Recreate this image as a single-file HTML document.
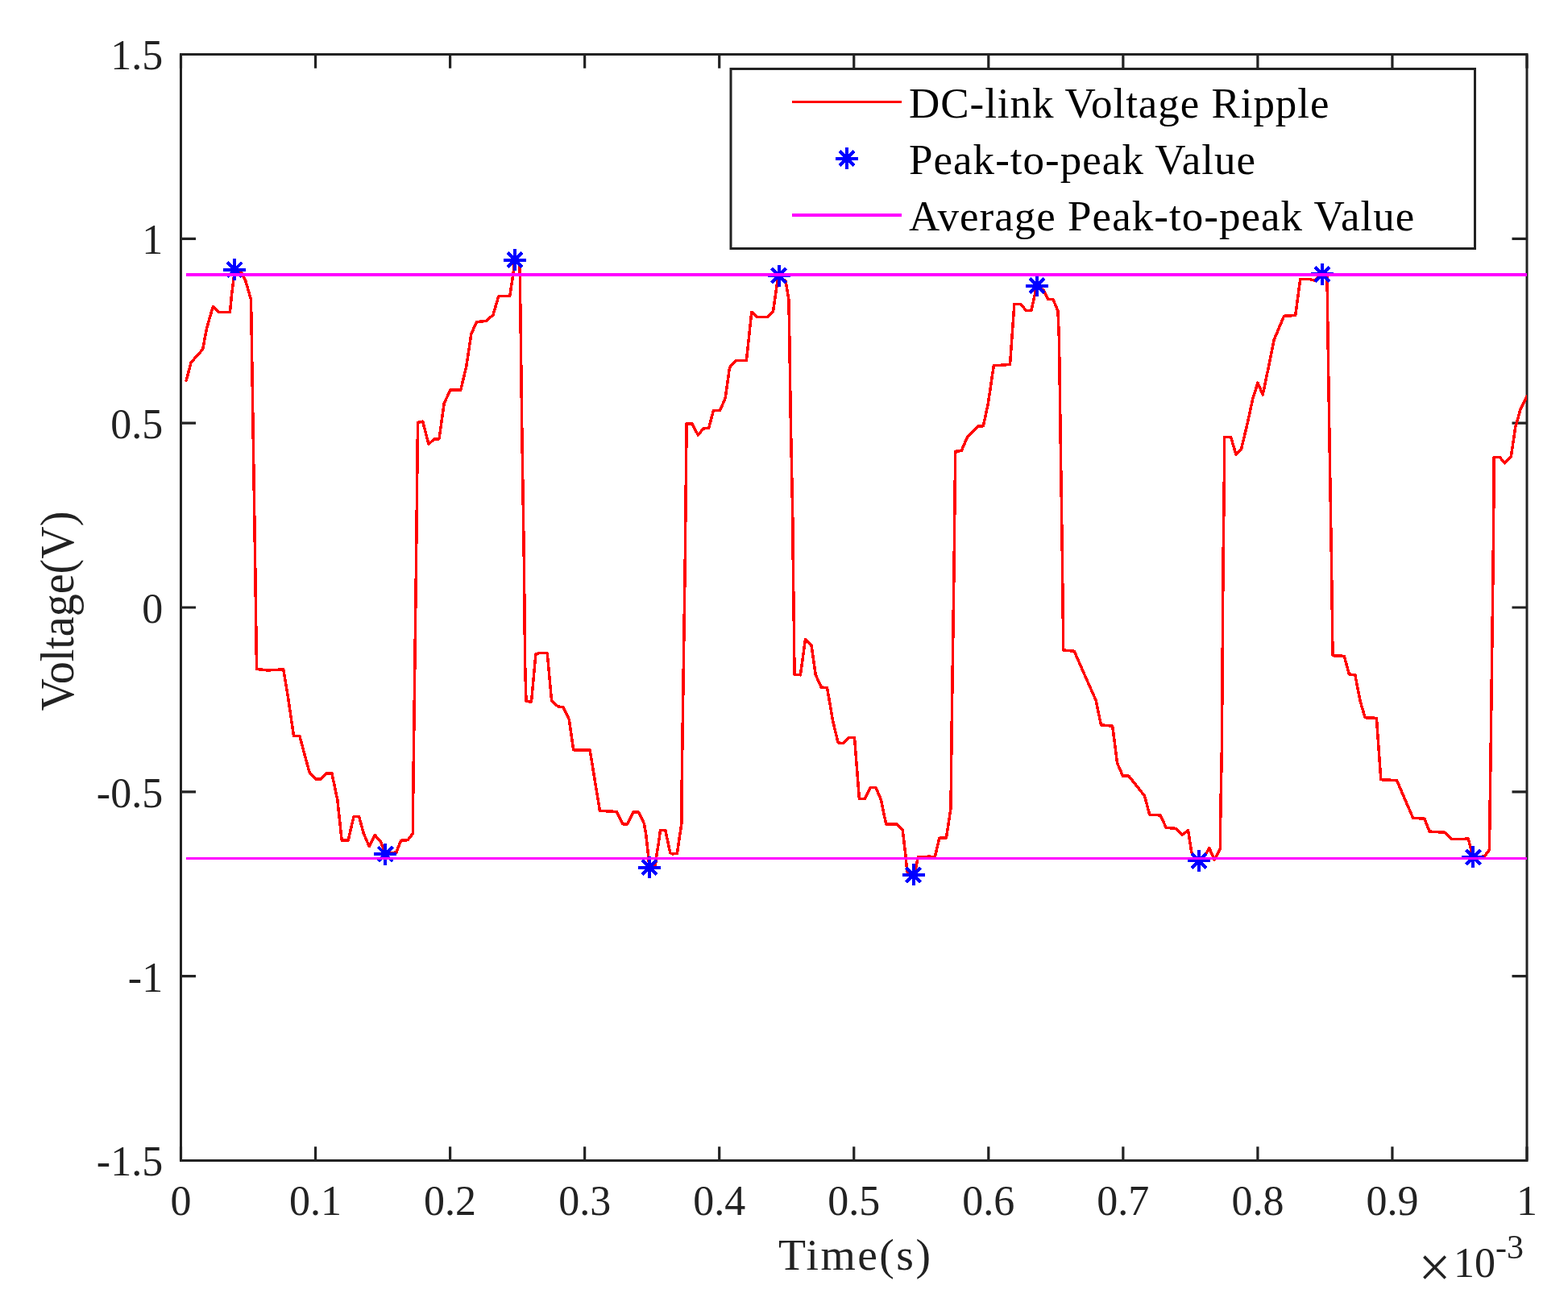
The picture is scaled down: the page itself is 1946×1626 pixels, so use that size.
<!DOCTYPE html>
<html><head><meta charset="utf-8"><title>DC-link Voltage Ripple</title>
<style>html,body{margin:0;padding:0;background:#fff;}svg{display:block;}text{font-family:"Liberation Serif","Times New Roman",serif;}</style></head><body>
<svg width="1946" height="1626" viewBox="0 0 1946 1626">
<rect x="0" y="0" width="1946" height="1626" fill="#fff"/>
<defs><clipPath id="c"><rect x="224.5" y="67.5" width="1670.5" height="1373.0"/></clipPath>
<g id="st"><path d="M-14 0H14M0 -13.5V13.5M-9.00 -9.00L9.00 9.00M-9.00 9.00L9.00 -9.00" stroke="#00f" stroke-width="4" fill="none" shape-rendering="crispEdges"/></g></defs>
<path d="M224.50 1440.50V1423.20M224.50 67.50V84.80M391.55 1440.50V1423.20M391.55 67.50V84.80M558.60 1440.50V1423.20M558.60 67.50V84.80M725.65 1440.50V1423.20M725.65 67.50V84.80M892.70 1440.50V1423.20M892.70 67.50V84.80M1059.75 1440.50V1423.20M1059.75 67.50V84.80M1226.80 1440.50V1423.20M1226.80 67.50V84.80M1393.85 1440.50V1423.20M1393.85 67.50V84.80M1560.90 1440.50V1423.20M1560.90 67.50V84.80M1727.95 1440.50V1423.20M1727.95 67.50V84.80M1895.00 1440.50V1423.20M1895.00 67.50V84.80M224.50 1440.50H243.00M1895.00 1440.50H1876.50M224.50 1211.67H243.00M1895.00 1211.67H1876.50M224.50 982.83H243.00M1895.00 982.83H1876.50M224.50 754.00H243.00M1895.00 754.00H1876.50M224.50 525.17H243.00M1895.00 525.17H1876.50M224.50 296.33H243.00M1895.00 296.33H1876.50M224.50 67.50H243.00M1895.00 67.50H1876.50" stroke="#222222" stroke-width="3.2" fill="none"/>
<rect x="224.5" y="67.5" width="1670.5" height="1373.0" fill="none" stroke="#222222" stroke-width="3"/>
<g clip-path="url(#c)">
<polyline points="231.2,472.2 237.1,450.0 251.7,433.4 256.1,409.6 259.4,397.5 264.4,380.3 271.6,387.5 285.4,387.5 287.7,364.2 290.4,343.2 291.5,334.9 299.3,337.7 304.8,348.7 311.5,372.0 312.0,400.0 316.7,700.0 318.5,830.4 332.0,832.0 351.7,830.9 357.8,867.3 364.5,913.5 371.8,913.5 384.1,958.8 391.5,966.9 398.4,966.9 405.3,960.0 411.9,960.0 418.8,992.7 424.2,1043.2 432.1,1043.2 439.0,1013.7 445.6,1013.7 451.3,1034.6 458.2,1050.6 465.3,1036.5 472.2,1044.4 478.4,1059.5 491.9,1058.0 497.5,1043.3 506.1,1042.7 512.3,1034.7 512.3,1025.5 512.9,972.6 516.5,700.0 518.5,524.4 524.6,523.1 532.0,551.4 538.9,544.8 545.0,544.8 551.2,500.5 559.0,484.0 571.8,484.0 578.7,455.0 584.9,414.4 591.5,399.6 603.3,398.4 611.9,391.0 618.8,367.7 632.8,367.2 636.5,343.0 639.0,322.6 645.1,329.5 646.4,423.0 647.6,521.4 650.4,700.0 651.6,823.0 653.0,870.5 659.5,871.0 664.9,811.9 669.4,810.7 679.2,810.7 684.6,869.7 692.7,877.1 698.9,877.6 706.3,893.1 711.7,930.8 732.1,930.8 744.4,1006.3 765.3,1007.5 772.7,1022.8 778.8,1022.8 786.2,1008.0 792.4,1008.0 799.3,1022.0 801.7,1035.3 804.8,1063.6 805.8,1077.0 813.4,1074.7 814.6,1063.6 817.7,1043.9 819.5,1030.4 825.7,1030.4 831.8,1058.7 834.3,1059.9 840.4,1059.3 842.9,1041.4 846.0,1021.8 846.3,961.5 850.2,700.0 851.6,570.6 852.1,525.8 859.0,525.8 866.2,539.9 873.0,532.0 879.7,531.2 885.4,509.6 893.5,509.6 900.1,494.3 905.5,456.2 912.9,447.6 926.4,447.6 932.8,387.3 940.0,393.5 953.0,393.5 959.6,386.1 964.8,349.2 966.0,341.8 975.1,349.2 978.8,371.3 979.6,405.8 981.3,521.4 983.8,644.4 984.3,700.0 985.3,773.8 986.0,837.3 993.4,837.8 999.5,793.5 1006.9,800.4 1012.3,837.8 1019.2,853.0 1026.6,853.8 1033.5,894.3 1040.1,921.9 1046.3,922.6 1053.6,915.3 1060.5,915.3 1066.4,991.5 1073.3,991.5 1080.2,977.5 1086.9,977.5 1093.5,992.7 1099.6,1022.8 1112.9,1023.0 1120.3,1030.6 1124.0,1062.4 1125.8,1082.0 1133.5,1086.3 1136.3,1079.6 1139.4,1063.6 1153.5,1063.2 1160.3,1063.6 1165.8,1040.2 1174.4,1040.0 1180.0,1003.3 1181.2,900.0 1184.1,700.0 1185.1,607.5 1185.8,560.3 1193.2,559.5 1200.6,542.3 1208.0,534.9 1214.1,528.8 1220.3,528.8 1226.4,500.5 1233.3,453.8 1253.5,452.5 1258.9,377.5 1266.3,377.5 1273.9,385.6 1279.8,385.6 1284.2,366.4 1286.7,355.4 1295.3,360.3 1300.7,371.3 1307.1,371.8 1313.0,386.1 1314.5,423.0 1316.2,546.0 1318.5,700.0 1319.7,807.0 1333.2,808.2 1341.8,827.9 1360.3,869.7 1366.4,899.8 1380.7,901.2 1386.6,947.2 1393.5,963.2 1400.9,963.2 1420.5,987.8 1426.7,1011.2 1440.2,1011.9 1447.1,1027.2 1459.8,1028.5 1467.2,1036.3 1474.6,1030.6 1478.3,1055.0 1479.5,1060.0 1487.9,1068.5 1496.7,1060.0 1500.7,1052.5 1504.1,1060.0 1507.2,1067.3 1511.5,1058.7 1514.6,1053.1 1514.8,1008.2 1516.4,927.1 1518.0,700.0 1519.2,607.5 1519.7,542.3 1527.6,542.3 1534.0,564.5 1540.6,557.1 1548.0,526.3 1554.6,495.6 1561.0,475.2 1567.2,489.9 1575.0,452.5 1581.2,421.8 1593.5,392.3 1607.7,391.5 1613.7,346.7 1625.5,346.7 1631.6,348.0 1641.0,340.4 1647.0,343.0 1648.1,423.0 1649.6,521.4 1652.5,700.0 1654.0,813.7 1668.3,814.4 1674.4,837.0 1681.8,837.8 1688.0,869.7 1694.1,890.7 1708.4,891.4 1713.8,967.7 1733.5,968.6 1753.7,1015.4 1767.9,1016.1 1774.1,1032.1 1793.8,1033.3 1801.1,1041.5 1822.3,1041.2 1825.4,1053.1 1828.2,1063.8 1842.3,1063.1 1848.5,1054.6 1848.9,1019.2 1850.0,942.3 1853.1,700.0 1853.8,626.9 1854.2,567.7 1861.5,567.7 1867.7,574.9 1875.4,566.2 1880.8,530.0 1886.9,508.5 1895.1,491.5" fill="none" stroke="#f00" stroke-width="3.5" stroke-linejoin="round" stroke-linecap="round" shape-rendering="crispEdges"/>
<use href="#st" x="291.3" y="334.7"/>
<use href="#st" x="478.4" y="1060.3"/>
<use href="#st" x="639.0" y="322.6"/>
<use href="#st" x="806.0" y="1076.8"/>
<use href="#st" x="966.5" y="342.0"/>
<use href="#st" x="1133.7" y="1085.9"/>
<use href="#st" x="1287.0" y="354.8"/>
<use href="#st" x="1487.8" y="1068.4"/>
<use href="#st" x="1641.0" y="340.4"/>
<use href="#st" x="1828.3" y="1063.9"/>
<line x1="231" y1="341" x2="1895" y2="341" stroke="#f0f" stroke-width="4" shape-rendering="crispEdges"/>
<line x1="231" y1="1065.5" x2="1895" y2="1065.5" stroke="#f0f" stroke-width="3" shape-rendering="crispEdges"/>
</g>
<g fill="#222222" font-size="52">
<text x="224.50" y="1507.5" text-anchor="middle">0</text>
<text x="391.55" y="1507.5" text-anchor="middle">0.1</text>
<text x="558.60" y="1507.5" text-anchor="middle">0.2</text>
<text x="725.65" y="1507.5" text-anchor="middle">0.3</text>
<text x="892.70" y="1507.5" text-anchor="middle">0.4</text>
<text x="1059.75" y="1507.5" text-anchor="middle">0.5</text>
<text x="1226.80" y="1507.5" text-anchor="middle">0.6</text>
<text x="1393.85" y="1507.5" text-anchor="middle">0.7</text>
<text x="1560.90" y="1507.5" text-anchor="middle">0.8</text>
<text x="1727.95" y="1507.5" text-anchor="middle">0.9</text>
<text x="1895.00" y="1507.5" text-anchor="middle">1</text>
<text x="202.2" y="1459.40" text-anchor="end">-1.5</text>
<text x="202.2" y="1230.57" text-anchor="end">-1</text>
<text x="202.2" y="1001.73" text-anchor="end">-0.5</text>
<text x="202.2" y="772.90" text-anchor="end">0</text>
<text x="202.2" y="544.07" text-anchor="end">0.5</text>
<text x="202.2" y="315.23" text-anchor="end">1</text>
<text x="202.2" y="86.40" text-anchor="end">1.5</text>
</g>
<text x="966" y="1575.7" font-size="55.7" fill="#222222" textLength="189" lengthAdjust="spacing">Time(s)</text>
<text transform="translate(91.3 882.6) rotate(-90)" x="0" y="0" font-size="60" fill="#222222" textLength="248" lengthAdjust="spacingAndGlyphs">Voltage(V)</text>
<text x="1760.5" y="1596.5" font-size="71" fill="#222222">×</text>
<text x="1804" y="1584.8" font-size="52" fill="#222222">10</text>
<text x="1856" y="1562" font-size="42" fill="#222222">-3</text>
<rect x="907" y="85.5" width="923.5" height="223" fill="#fff" stroke="#222222" stroke-width="3"/>
<line x1="983" y1="126.5" x2="1119" y2="126.5" stroke="#f00" stroke-width="3"/>
<use href="#st" x="1051" y="196.8"/>
<line x1="983" y1="267" x2="1119" y2="267" stroke="#f0f" stroke-width="4"/>
<g fill="#000" font-size="53">
<text x="1128" y="145.7" textLength="521.5" lengthAdjust="spacing">DC-link Voltage Ripple</text>
<text x="1128" y="215.7" textLength="430" lengthAdjust="spacing">Peak-to-peak Value</text>
<text x="1128" y="285.6" textLength="627.3" lengthAdjust="spacing">Average Peak-to-peak Value</text>
</g>
</svg></body></html>
